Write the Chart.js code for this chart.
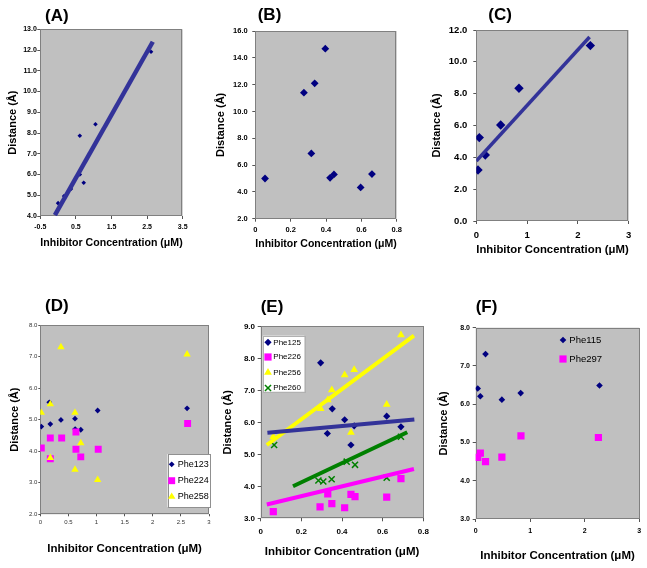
<!DOCTYPE html>
<html><head><meta charset="utf-8">
<script src="https://cdn.jsdelivr.net/npm/chart.js@4.4.1/dist/chart.umd.min.js"></script>
<style>
html,body{margin:0;padding:0;background:#fff;}
#wrap{position:relative;width:647px;height:568px;overflow:hidden;background:#fff;}
canvas{position:absolute;}
</style></head><body><div id="wrap"></div>
<script>
// ---------------- DATA ----------------
// Panel A
const aConc = [0.0, 0.17, 0.36, 0.61, 0.61, 0.72, 1.05, 2.61];
const aDist = [4.62, 4.96, 5.3, 6.0, 7.87, 5.6, 8.42, 11.92];
const aFitConc = [-0.09, 2.66];
const aFitDist = [4.04, 12.4];
const aXTicks = [-0.5, 0.5, 1.5, 2.5, 3.5];
const aYTicks = [4, 5, 6, 7, 8, 9, 10, 11, 12, 13];
// Panel B
const bConc = [0.055, 0.275, 0.336, 0.396, 0.317, 0.423, 0.445, 0.596, 0.66];
const bDist = [5.0, 11.4, 12.1, 14.68, 6.87, 5.05, 5.3, 4.33, 5.33];
const bXTicks = [0, 0.2, 0.4, 0.6, 0.8];
const bYTicks = [2, 4, 6, 8, 10, 12, 14, 16];
// Panel C
const cConc = [0.033, 0.059, 0.177, 0.48, 0.84, 2.245];
const cDist = [3.2, 5.24, 4.15, 6.03, 8.34, 11.02];
const cFitConc = [0, 2.23];
const cFitDist = [3.77, 11.56];
const cXTicks = [0, 1, 2, 3];
const cYTicks = [0, 2, 4, 6, 8, 10, 12];
// Panel D
const dNames = ['Phe123', 'Phe224', 'Phe258'];
const dPhe123Conc = [0.018, 0.16, 0.178, 0.367, 0.617, 0.62, 0.72, 1.02, 2.61];
const dPhe123Dist = [4.78, 5.55, 4.86, 4.99, 5.03, 4.70, 4.68, 5.29, 5.36];
const dPhe224Conc = [0.018, 0.178, 0.178, 0.38, 0.634, 0.634, 0.72, 1.03, 2.62];
const dPhe224Dist = [4.10, 4.42, 3.76, 4.42, 4.61, 4.06, 3.82, 4.06, 4.88];
const dPhe258Conc = [0.018, 0.178, 0.178, 0.367, 0.617, 0.617, 0.72, 1.02, 2.61];
const dPhe258Dist = [5.22, 5.49, 3.79, 7.30, 5.22, 3.42, 4.26, 3.09, 7.07];
const dXTicks = [0, 0.5, 1, 1.5, 2, 2.5, 3];
const dYTicks = [2, 3, 4, 5, 6, 7, 8];
// Panel E
const eNames = ['Phe125', 'Phe226', 'Phe256', 'Phe260'];
const ePhe125Conc = [0.295, 0.328, 0.352, 0.413, 0.444, 0.46, 0.62, 0.69];
const ePhe125Dist = [7.86, 5.65, 6.42, 6.08, 5.29, 5.89, 6.19, 5.86];
const ePhe226Conc = [0.062, 0.292, 0.33, 0.35, 0.413, 0.444, 0.464, 0.62, 0.69];
const ePhe226Dist = [3.21, 3.36, 3.76, 3.46, 3.33, 3.75, 3.68, 3.66, 4.24];
const ePhe256Conc = [0.062, 0.295, 0.33, 0.35, 0.413, 0.444, 0.46, 0.62, 0.69];
const ePhe256Dist = [5.55, 6.42, 6.7, 7.01, 7.48, 5.68, 7.64, 6.56, 8.73];
const ePhe260Conc = [0.066, 0.284, 0.308, 0.349, 0.423, 0.464, 0.62, 0.69];
const ePhe260Dist = [5.29, 4.18, 4.15, 4.22, 4.77, 4.67, 4.27, 5.55];
const eFit125Conc = [0.033, 0.756]; const eFit125Dist = [5.67, 6.09];
const eFit226Conc = [0.03, 0.754];  const eFit226Dist = [3.43, 4.54];
const eFit256Conc = [0.03, 0.754];  const eFit256Dist = [5.29, 8.71];
const eFit260Conc = [0.159, 0.721]; const eFit260Dist = [4.0, 5.69];
const eXTicks = [0, 0.2, 0.4, 0.6, 0.8];
const eYTicks = [3, 4, 5, 6, 7, 8, 9];
// Panel F
const fNames = ['Phe115', 'Phe297'];
const fPhe115Conc = [0.037, 0.085, 0.18, 0.48, 0.825, 2.27];
const fPhe115Dist = [6.41, 6.21, 7.31, 6.12, 6.29, 6.49];
const fPhe297Conc = [0.037, 0.085, 0.18, 0.48, 0.83, 2.25];
const fPhe297Dist = [4.61, 4.72, 4.50, 4.62, 5.17, 5.13];
const fXTicks = [0, 1, 2, 3];
const fYTicks = [3, 4, 5, 6, 7, 8];

const xTitleText = 'Inhibitor Concentration (\u03bcM)';
const yTitleText = 'Distance (\u00c5)';

// ---------------- STYLE ----------------
const FAM = "'Liberation Sans', Arial, Helvetica, sans-serif";
const NAVY = '#000080', MAG = '#FF00FF', YEL = '#FFFF00', GRN = '#008000', LBLUE = '#333399';
const PLOTBG = '#C0C0C0', FRAME = '#808080';

const pts = (xs, ys) => xs.map((x, i) => ({x: x, y: ys[i]}));
function series(label, xs, ys, style, r, color, bw) {
  return {label, data: pts(xs, ys), pointStyle: style, pointRadius: r,
    pointBackgroundColor: color, pointBorderColor: color, pointBorderWidth: bw || 0, showLine: false};
}
function fit(xs, ys, color, w) {
  return {label: 'fit', isFit: true, data: pts(xs, ys), showLine: true, borderColor: color,
    borderWidth: w, pointRadius: 0, clip: 0, fill: false, tension: 0};
}

function marker(ctx, style, r, x, y, color, bw) {
  ctx.fillStyle = color; ctx.strokeStyle = color; ctx.lineWidth = bw || 1;
  ctx.beginPath();
  if (style === 'rectRot') {
    ctx.moveTo(x, y - r); ctx.lineTo(x + r, y); ctx.lineTo(x, y + r); ctx.lineTo(x - r, y); ctx.closePath(); ctx.fill();
  } else if (style === 'rect') {
    const s = r * Math.SQRT1_2; ctx.rect(x - s, y - s, 2 * s, 2 * s); ctx.fill();
  } else if (style === 'triangle') {
    ctx.moveTo(x, y - r); ctx.lineTo(x + r * 0.866, y + r * 0.5); ctx.lineTo(x - r * 0.866, y + r * 0.5); ctx.closePath(); ctx.fill();
  } else if (style === 'crossRot') {
    const d = r * Math.SQRT1_2;
    ctx.moveTo(x - d, y - d); ctx.lineTo(x + d, y + d); ctx.moveTo(x + d, y - d); ctx.lineTo(x - d, y + d); ctx.stroke();
  }
  if (bw > 0 && style !== 'crossRot') ctx.stroke();
}

const deco = {
  id: 'deco',
  beforeDraw(chart) {
    const a = chart.chartArea, ctx = chart.ctx;
    ctx.save();
    ctx.fillStyle = PLOTBG;
    ctx.fillRect(a.left, a.top, a.right - a.left, a.bottom - a.top);
    ctx.restore();
  },
  beforeDatasetsDraw(chart) {
    const a = chart.chartArea, ctx = chart.ctx;
    ctx.save();
    ctx.strokeStyle = FRAME; ctx.lineWidth = 1;
    ctx.strokeRect(Math.round(a.left) + 0.5, Math.round(a.top) + 0.5, Math.round(a.right - a.left) - 1, Math.round(a.bottom - a.top) - 1);
    ctx.restore();
  },
  afterDraw(chart) {
    const d = chart.canvas._deco, ctx = chart.ctx;
    ctx.save();
    ctx.fillStyle = '#000';
    ctx.font = 'bold 17px ' + FAM;
    ctx.textBaseline = 'middle'; ctx.textAlign = 'left';
    ctx.fillText(d.label, d.lx, d.ly);
    const L = d.legend;
    if (L) {
      if (L.box) {
        ctx.fillStyle = '#FFFFFF';
        ctx.fillRect(L.box[0], L.box[1], L.box[2] - L.box[0], L.box[3] - L.box[1]);
        ctx.strokeStyle = L.boxColor; ctx.lineWidth = 1;
        ctx.strokeRect(Math.round(L.box[0]) + 0.5, Math.round(L.box[1]) + 0.5, Math.round(L.box[2] - L.box[0]), Math.round(L.box[3] - L.box[1]));
      }
      const items = chart.data.datasets.filter(ds => !ds.isFit);
      items.forEach((ds, i) => {
        const y = L.ys[i];
        marker(ctx, ds.pointStyle, ds.pointRadius, L.mx, y, ds.pointBackgroundColor, ds.pointBorderWidth);
        ctx.fillStyle = '#000'; ctx.font = L.font; ctx.textBaseline = 'middle'; ctx.textAlign = 'left';
        ctx.fillText(ds.label, L.tx, y);
      });
    }
    ctx.restore();
  }
};

const wrap = document.getElementById('wrap');
const lhY = 11 * 1.2, lhX = 11.5 * 1.2;

function makePanel(p) {
  const cl = Math.round(p.yTX - lhY / 2);
  const ct = p.top;
  const ch = Math.round(p.xTY + lhX / 2 - ct);
  const cw = Math.ceil(p.R + 12 - cl);
  const yAxisW = p.L - cl, xAxisH = ct + ch - p.B, padTop = p.T - ct, padRight = cl + cw - p.R;
  const c = document.createElement('canvas');
  c.width = cw; c.height = ch;
  c.style.left = cl + 'px'; c.style.top = ct + 'px';
  c.style.width = cw + 'px'; c.style.height = ch + 'px';
  wrap.appendChild(c);
  const rel = {label: p.label, lx: p.lx - cl, ly: p.ly - ct, legend: null};
  if (p.legend) {
    const Lg = p.legend;
    rel.legend = {box: Lg.box ? [Lg.box[0] - cl, Lg.box[1] - ct, Lg.box[2] - cl, Lg.box[3] - ct] : null,
      boxColor: Lg.boxColor, mx: Lg.mx - cl, tx: Lg.tx - cl, ys: Lg.ys.map(v => v - ct), font: Lg.font};
  }
  c._deco = rel;
  const tickFont = {family: FAM, size: p.tf.size, weight: p.tf.weight};
  new Chart(c, {
    type: 'scatter',
    data: {datasets: p.datasets},
    options: {
      responsive: false, animation: false, devicePixelRatio: 1,
      layout: {padding: {left: 0, top: padTop, right: padRight, bottom: 0}},
      plugins: {legend: {display: false}, tooltip: {enabled: false}},
      scales: {
        x: {
          type: 'linear', min: p.xr[0], max: p.xr[1],
          afterBuildTicks: s => { s.ticks = p.xt.map(v => ({value: v})); },
          afterFit: s => { s.height = xAxisH; },
          ticks: {font: tickFont, color: p.tickColor || '#000', padding: p.xpad, maxRotation: 0, autoSkip: false,
                  callback: v => String(v)},
          grid: {display: true, drawOnChartArea: false, drawTicks: true, tickLength: p.tl, color: '#555'},
          border: {display: false},
          title: {display: true, text: xTitleText, color: '#000', padding: 0,
                  font: {family: FAM, size: 11.5, weight: 'bold'}}
        },
        y: {
          type: 'linear', min: p.yr[0], max: p.yr[1],
          afterBuildTicks: s => { s.ticks = p.yt.map(v => ({value: v})); },
          afterFit: s => { s.width = yAxisW; },
          ticks: {font: tickFont, color: p.tickColor || '#000', padding: p.ypad, autoSkip: false,
                  callback: v => Number(v).toFixed(1)},
          grid: {display: true, drawOnChartArea: false, drawTicks: true, tickLength: p.tl, color: '#555'},
          border: {display: false},
          title: {display: true, text: yTitleText, color: '#000', padding: 0,
                  font: {family: FAM, size: 11, weight: 'bold'}}
        }
      }
    },
    plugins: [deco]
  });
}

// ---------------- PANELS ----------------
makePanel({L: 40.3, T: 29.3, R: 182.7, B: 216, yTX: 13, xTY: 243, top: 0,
  label: '(A)', lx: 45, ly: 16, xr: [-0.5, 3.5], yr: [4, 13], xt: aXTicks, yt: aYTicks,
  tf: {size: 7, weight: 'bold'}, tl: 3, xpad: 3.5, ypad: 0.5,
  datasets: [fit(aFitConc, aFitDist, LBLUE, 4.5),
             series('A', aConc, aDist, 'rectRot', 2.3, NAVY, 0)]});

makePanel({L: 255.3, T: 31, R: 396.7, B: 218.7, yTX: 221, xTY: 244, top: 0,
  label: '(B)', lx: 257.7, ly: 15.5, xr: [0, 0.8], yr: [2, 16], xt: bXTicks, yt: bYTicks,
  tf: {size: 7.5, weight: 'bold'}, tl: 3, xpad: 3.8, ypad: 4.6,
  datasets: [series('B', bConc, bDist, 'rectRot', 3.9, NAVY, 0)]});

makePanel({L: 476.3, T: 30, R: 628.7, B: 221, yTX: 436.7, xTY: 250, top: 0,
  label: '(C)', lx: 488.3, ly: 15.5, xr: [0, 3], yr: [0, 12], xt: cXTicks, yt: cYTicks,
  tf: {size: 9.5, weight: 'bold'}, tl: 3, xpad: 6, ypad: 6,
  datasets: [fit(cFitConc, cFitDist, LBLUE, 3.5),
             series('C', cConc, cDist, 'rectRot', 4.7, NAVY, 0)]});

makePanel({L: 40.3, T: 325, R: 209, B: 514.3, yTX: 14.3, xTY: 549, top: 285,
  label: '(D)', lx: 45, ly: 306.7, xr: [0, 3], yr: [2, 8], xt: dXTicks, yt: dYTicks,
  tf: {size: 6, weight: 'normal'}, tl: 2, xpad: 2.4, ypad: 1, tickColor: '#333',
  legend: {box: [167.5, 454, 209.3, 507], boxColor: '#909090', mx: 171.7, tx: 177.7,
           ys: [464.3, 480.7, 496.7], font: '9px ' + FAM},
  datasets: [
    Object.assign(series(dNames[0], dPhe123Conc, dPhe123Dist, 'rectRot', 2.9, NAVY, 0), {order: 2}),
    Object.assign(series(dNames[1], dPhe224Conc, dPhe224Dist, 'rect', 4.9, MAG, 0), {order: 1}),
    Object.assign(series(dNames[2], dPhe258Conc, dPhe258Dist, 'triangle', 4.3, YEL, 0), {order: 0})
  ]});

makePanel({L: 260.7, T: 326.3, R: 423.3, B: 518.3, yTX: 227.5, xTY: 551.7, top: 285,
  label: '(E)', lx: 260.7, ly: 307, xr: [0, 0.8], yr: [3, 9], xt: eXTicks, yt: eYTicks,
  tf: {size: 8, weight: 'bold'}, tl: 3, xpad: 5.6, ypad: 2.7,
  legend: {box: [262.7, 335.7, 304.3, 391.7], boxColor: '#B0B0B0', mx: 268, tx: 273.3,
           ys: [342.3, 357, 372.5, 388], font: '8px ' + FAM},
  datasets: [
    Object.assign(fit(eFit125Conc, eFit125Dist, LBLUE, 4), {order: 0}),
    Object.assign(fit(eFit226Conc, eFit226Dist, MAG, 4), {order: 0}),
    Object.assign(fit(eFit256Conc, eFit256Dist, YEL, 4), {order: 0}),
    Object.assign(fit(eFit260Conc, eFit260Dist, GRN, 4), {order: 0}),
    Object.assign(series(eNames[0], ePhe125Conc, ePhe125Dist, 'rectRot', 3.6, NAVY, 0), {order: 4}),
    Object.assign(series(eNames[1], ePhe226Conc, ePhe226Dist, 'rect', 5.1, MAG, 0), {order: 3}),
    Object.assign(series(eNames[2], ePhe256Conc, ePhe256Dist, 'triangle', 4.5, YEL, 0), {order: 2}),
    Object.assign(series(eNames[3], ePhe260Conc, ePhe260Dist, 'crossRot', 4.3, GRN, 1.5), {order: 1})
  ]});

makePanel({L: 475.7, T: 327.7, R: 639.3, B: 519, yTX: 443.3, xTY: 555.7, top: 285,
  label: '(F)', lx: 475.7, ly: 307, xr: [0, 3], yr: [3, 8], xt: fXTicks, yt: fYTicks,
  tf: {size: 7, weight: 'bold'}, tl: 3, xpad: 4.8, ypad: 2.7,
  legend: {box: null, mx: 563, tx: 569.3, ys: [340, 359], font: '9.5px ' + FAM},
  datasets: [
    Object.assign(series(fNames[0], fPhe115Conc, fPhe115Dist, 'rectRot', 3.3, NAVY, 0), {order: 1}),
    Object.assign(series(fNames[1], fPhe297Conc, fPhe297Dist, 'rect', 5.1, MAG, 0), {order: 0})
  ]});
</script>
</body></html>
